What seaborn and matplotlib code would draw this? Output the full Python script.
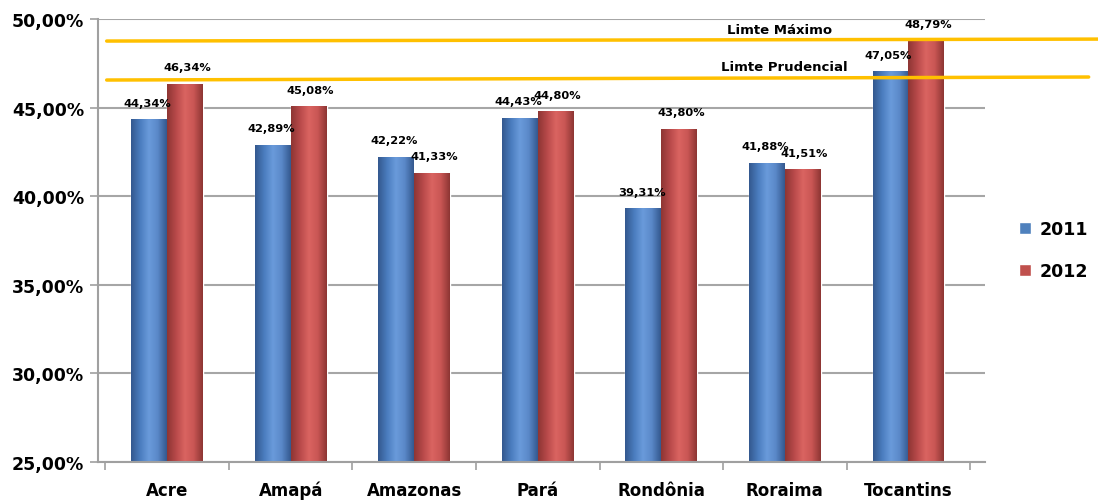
import numpy as np
import pandas as pd
import matplotlib
matplotlib.use("Agg")
import matplotlib.pyplot as plt
from matplotlib.colors import LinearSegmentedColormap
import seaborn as sns

estados = ["Acre", "Amapá", "Amazonas", "Pará", "Rondônia", "Roraima", "Tocantins"]
v2011 = [44.34, 42.89, 42.22, 44.43, 39.31, 41.88, 47.05]
v2012 = [46.34, 45.08, 41.33, 44.80, 43.80, 41.51, 48.79]
anos = ["2011", "2012"]
lim_max = [48.76, 48.87]
lim_prud = [46.56, 46.73]
yticks = [25, 30, 35, 40, 45, 50]

df = pd.DataFrame({
    "estado": estados * 2,
    "ano": [anos[0]] * 7 + [anos[1]] * 7,
    "valor": v2011 + v2012,
})

sns.set_style("white")
plt.rcParams["font.family"] = ["DejaVu Sans"]
plt.rcParams["text.color"] = "black"
plt.rcParams["xtick.color"] = "black"
plt.rcParams["ytick.color"] = "black"

fig, ax = plt.subplots(figsize=(10.98, 5.02), dpi=100)
fig.subplots_adjust(left=0.0893, right=0.897, bottom=0.0777, top=0.960)

cores = {"2011": "#4F81BD", "2012": "#C0504D"}
sns.barplot(data=df, x="estado", y="valor", hue="ano", palette=cores,
            width=0.58, gap=0, saturation=1, ax=ax, legend=True)

ax.set_xlim(-0.56, 6.62)
ax.set_ylim(25, 50)

# gradiente tipo cilindro nas barras
grad_cores = {
    "2011": ["#34598F", "#4A7CBE", "#6A9BDB", "#5A88C8", "#34598F"],
    "2012": ["#8E3634", "#B8494A", "#DA6461", "#C95654", "#8E3634"],
}
ramp = np.linspace(0, 1, 64).reshape(1, -1)
barras = [p for p in ax.patches if p.get_height() > 0]
for i, bar in enumerate(barras):
    ano = anos[0] if i < len(estados) else anos[1]
    cmap = LinearSegmentedColormap.from_list("g" + ano, grad_cores[ano])
    x0, w, h = bar.get_x(), bar.get_width(), bar.get_height()
    im = ax.imshow(ramp, extent=[x0, x0 + w, 25, h], aspect="auto", cmap=cmap,
                   zorder=bar.get_zorder() + 0.1)
    im.set_clip_path(bar)

ax.set_xlim(-0.56, 6.62)
ax.set_ylim(25, 50)

# rótulos de dados
for i in range(len(estados)):
    for off, vals in ((-0.16, v2011), (0.16, v2012)):
        v = vals[i]
        ax.annotate(f"{v:.2f}".replace(".", ",") + "%", (i + off, v),
                    xytext=(0, 12), textcoords="offset points", ha="center",
                    va="center", fontsize=8.2, fontweight="bold", color="black")

# linhas de limite
ax.plot([-0.49, 7.54], lim_max, color="#FFC000", lw=2.5, clip_on=False, zorder=5)
ax.plot([-0.49, 7.46], lim_prud, color="#FFC000", lw=2.5, clip_on=False, zorder=5)
ax.text(4.96, 49.42, "Limte Máximo", ha="center", va="center", fontsize=9.5,
        fontweight="semibold")
ax.text(5.0, 47.33, "Limte Prudencial", ha="center", va="center", fontsize=9.5,
        fontweight="semibold")

ax.set_yticks(yticks)
ax.set_yticklabels([f"{t:.2f}".replace(".", ",") + "%" for t in yticks],
                   fontsize=12.5, fontweight="bold")
ax.set_xticks(range(len(estados)))
ax.set_xticklabels(estados, fontsize=12, fontweight="bold", va="baseline")
ax.set_xticks(np.arange(-0.5, 7, 1), minor=True)
ax.tick_params(axis="x", which="major", length=0, pad=24, bottom=True)
ax.tick_params(axis="x", which="minor", length=6, color="#A0A0A0", width=1.2,
               bottom=True)
ax.tick_params(axis="y", length=6, color="#A0A0A0", width=1.2, pad=4, left=True,
               labelcolor="black")
ax.set_xlabel("")
ax.set_ylabel("")

ax.yaxis.grid(True, color="#A6A6A6", lw=1.5)
ax.set_axisbelow(True)
for s in ("top", "right"):
    ax.spines[s].set_visible(False)
for s in ("left", "bottom"):
    ax.spines[s].set_color("#A0A0A0")
    ax.spines[s].set_linewidth(1.5)

leg = ax.legend(loc="center left", bbox_to_anchor=(0.928, 0.5),
                bbox_transform=fig.transFigure, frameon=False,
                handlelength=0.7, handleheight=0.7, handletextpad=0.5,
                labelspacing=1.4, borderaxespad=0, borderpad=0,
                prop={"weight": "bold", "size": 12.5})
for t in leg.get_texts():
    t.set_color("black")

fig.savefig("out.png", dpi=100)
